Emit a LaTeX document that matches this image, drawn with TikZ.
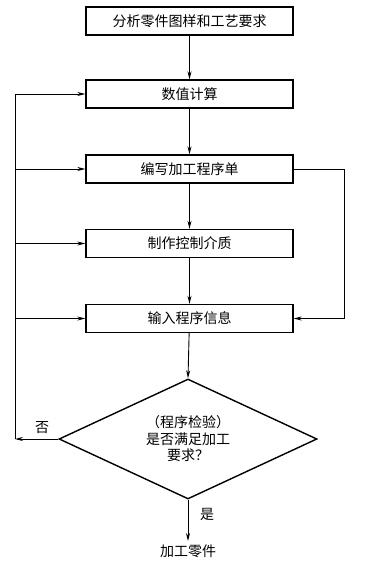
\documentclass[tikz,border=0pt]{standalone}
\usepackage{fontspec}
\setmainfont{Noto Sans CJK SC}
\usetikzlibrary{shapes.geometric,arrows.meta}

\begin{document}
\begin{tikzpicture}[
        x=1pt, y=-1pt,
        stepbox/.style={rectangle, draw=black, line width=1.4pt, minimum width=207pt, minimum height=28pt, inner sep=0pt},
        check/.style={diamond, draw=black, line width=1.4pt, minimum width=258pt, minimum height=120pt, inner sep=0pt, aspect=2.15, align=center},
        edge/.style={-{Stealth[length=8pt,width=4pt]}, line width=0.9pt},
        line/.style={line width=0.9pt},
        font=\fontsize{14}{16.5}\selectfont
    ]
    \useasboundingbox (0,0) rectangle (371,562);

    % Etapas
    \node[stepbox] (b1) at (189.5,21) {分析零件图样和工艺要求};
    \node[stepbox] (b2) at (189.5,94) {数值计算};
    \node[stepbox] (b3) at (189.5,169) {编写加工程序单};
    \node[stepbox] (b4) at (189.5,243.5) {制作控制介质};
    \node[stepbox] (b5) at (189.5,318.5) {输入程序信息};

    % Verificação
    \node[check] (chk) at (188,439) {（程序检验）\\是否满足加工\\要求？};
    \node (fim) at (188,551) {加工零件};

    % Pontos de retorno
    \coordinate (retL) at (15,439);
    \coordinate (retR) at (344,169);

    % Setas principais
    \draw[edge] (b1) -- (b2);
    \draw[edge] (b2) -- (b3);
    \draw[edge] (b3) -- (b4);
    \draw[edge] (b4) -- (b5);
    \draw[edge] (b5) -- (chk.north);
    \draw[edge] (chk.south) -- (fim);

    % Retorno (não)
    \draw[edge] (chk.west) -- (retL);
    \draw[line] (retL) -- (retL |- b2);
    \draw[edge] (retL |- b2) -- (b2.west);
    \draw[edge] (retL |- b3) -- (b3.west);
    \draw[edge] (retL |- b4) -- (b4.west);
    \draw[edge] (retL |- b5) -- (b5.west);

    % Desvio direito
    \draw[edge] (b3.east) -- (retR) |- (b5.east);

    % Legendas
    \node at (42,428) {否};
    \node at (207,514) {是};

    \end{tikzpicture}
\end{document}
